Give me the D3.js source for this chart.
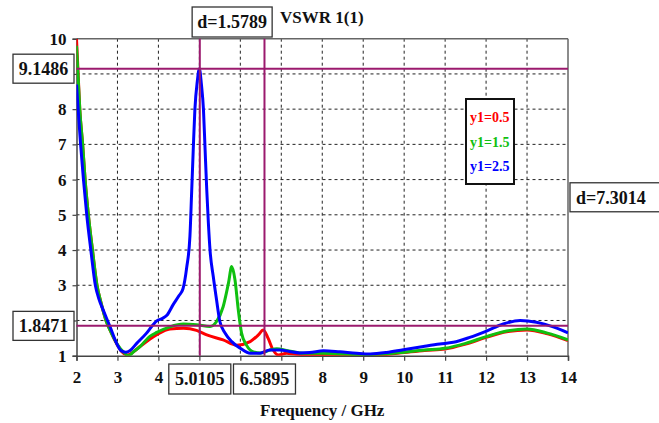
<!DOCTYPE html>
<html><head><meta charset="utf-8">
<script src="https://cdn.jsdelivr.net/npm/d3@7"></script>
<style>
html,body{margin:0;padding:0;background:#fff;}
svg{display:block;font-family:"Liberation Serif","Times New Roman",serif;font-weight:bold;}
</style></head>
<body><svg id="c" width="659" height="423"></svg>
<script>
// ---- data ----
const xTicks = [2,3,4,5,6,7,8,9,10,11,12,13,14];
const yTicks = [1,2,3,4,5,6,7,8,9,10];
const xHiddenLabels = [5,6,7];   // covered by marker boxes in the reference
const yHiddenLabels = [2,9];
const seriesNames = ["y1=0.5","y1=1.5","y1=2.5"];
const seriesColors = ["#ff0000","#10c010","#0000ff"];

const redF = [2.0,2.04,2.08,2.15,2.21,2.29,2.39,2.5,2.6,2.72,2.85,3.0,3.12,3.25,3.4,3.55,3.96,4.28,4.61,4.93,5.18,5.58,5.91,6.24,6.44,6.56,6.68,6.8,6.93,7.13,7.37,7.7,8.0,8.5,9.0,9.5,10.0,10.5,11.0,11.5,12.0,12.5,13.0,13.5,14.0];
const redV = [10.0,9.0,8.0,7.0,6.0,5.0,4.0,3.0,2.5,2.0,1.65,1.3,1.1,1.02,1.12,1.26,1.6,1.76,1.78,1.72,1.59,1.45,1.3,1.4,1.59,1.73,1.49,1.16,1.02,1.07,1.04,1.03,1.03,1.03,1.02,1.03,1.09,1.15,1.19,1.33,1.52,1.68,1.73,1.62,1.43];

const greenF = [2.0,2.04,2.08,2.15,2.21,2.29,2.39,2.5,2.6,2.72,2.85,3.0,3.15,3.27,3.4,3.55,3.79,3.96,4.28,4.61,4.93,5.26,5.42,5.58,5.71,5.79,5.87,5.95,6.03,6.15,6.32,6.5,6.7,6.89,7.13,7.54,8.0,8.5,9.0,9.5,10.0,10.5,11.0,11.5,12.0,12.5,13.0,13.5,14.0];
const greenV = [9.8,8.9,8.0,7.0,6.0,5.0,4.0,3.0,2.5,2.0,1.65,1.32,1.1,1.0,1.12,1.26,1.55,1.66,1.82,1.9,1.88,1.83,1.97,2.39,3.06,3.53,3.15,2.3,1.64,1.3,1.11,1.08,1.15,1.2,1.15,1.07,1.07,1.05,1.03,1.05,1.1,1.16,1.21,1.35,1.54,1.7,1.76,1.64,1.45];

const blueF = [2.0,2.04,2.1,2.17,2.25,2.35,2.46,2.55,2.65,2.82,2.98,3.08,3.2,3.3,3.47,3.71,3.85,3.96,4.1,4.2,4.36,4.5,4.6,4.69,4.77,4.81,4.85,4.89,4.95,5.0,5.05,5.1,5.14,5.18,5.22,5.26,5.34,5.42,5.5,5.63,5.79,6.0,6.24,6.48,6.72,6.97,7.2,7.45,7.7,8.03,8.43,8.84,9.17,9.57,9.98,10.47,10.87,11.2,11.6,12.01,12.42,12.83,13.23,13.64,14.0];
const blueV = [8.7,8.0,7.0,6.0,5.0,4.0,3.0,2.6,2.3,1.82,1.35,1.15,1.1,1.14,1.35,1.64,1.85,1.99,2.06,2.14,2.45,2.7,2.9,3.5,4.4,5.6,6.84,7.98,8.8,9.15,8.7,7.98,6.84,5.71,4.76,4.0,3.24,2.58,1.97,1.64,1.4,1.21,1.07,1.07,1.16,1.16,1.12,1.08,1.09,1.14,1.11,1.07,1.05,1.09,1.17,1.26,1.33,1.38,1.52,1.7,1.9,2.0,1.95,1.82,1.65];

const markerX = [5.0105, 6.5895];
const markerXLabels = ["5.0105","6.5895"];
const markerY = [9.1486, 1.8471];
const markerYLabels = ["9.1486","1.8471"];
const deltaXLabel = "d=1.5789";
const deltaYLabel = "d=7.3014";
const titleText = "VSWR 1(1)";
const xTitle = "Frequency / GHz";

// ---- drawing ----
const svg = d3.select("#c");
const x = d3.scaleLinear().domain([2,14]).range([76.5,568]);
const y = d3.scaleLinear().domain([1,10]).range([355.7,38.7]);
const purple = "#9b1a6e";

svg.append("defs").append("clipPath").attr("id","clip")
  .append("rect").attr("x",x(2)).attr("y",y(10)).attr("width",x(14)-x(2)).attr("height",y(1)-y(10));

// grid
const g = svg.append("g");
g.selectAll(".vg").data(xTicks.slice(1,-1)).join("line")
  .attr("x1",d=>x(d)).attr("x2",d=>x(d)).attr("y1",y(10)).attr("y2",y(1))
  .attr("stroke","#222").attr("stroke-width",1).attr("stroke-dasharray","3,3");
g.selectAll(".hg").data(yTicks.slice(1,-1)).join("line")
  .attr("x1",x(2)).attr("x2",x(14)).attr("y1",d=>y(d)).attr("y2",d=>y(d))
  .attr("stroke","#222").attr("stroke-width",1).attr("stroke-dasharray","3,3");

// frame top/right
svg.append("line").attr("x1",x(2)).attr("x2",x(14)).attr("y1",y(10)).attr("y2",y(10)).attr("stroke","#666").attr("stroke-width",1.5);
svg.append("line").attr("x1",x(14)).attr("x2",x(14)).attr("y1",y(10)).attr("y2",y(1)).attr("stroke","#666").attr("stroke-width",1.5);

// axes
const xAxis = svg.append("g").attr("transform",`translate(0,${y(1)})`)
  .call(d3.axisBottom(x).tickValues(xTicks).tickSize(5).tickPadding(10)
    .tickFormat(d=>xHiddenLabels.includes(d)?"":d3.format("d")(d)));
const yAxis = svg.append("g").attr("transform",`translate(${x(2)},0)`)
  .call(d3.axisLeft(y).tickValues(yTicks).tickSize(4).tickPadding(6)
    .tickFormat(d=>yHiddenLabels.includes(d)?"":d3.format("d")(d)));
[xAxis,yAxis].forEach(a=>{
  a.select(".domain").attr("stroke","#444").attr("stroke-width",1.5);
  a.selectAll(".tick line").attr("stroke","#444").attr("stroke-width",1.2);
  a.selectAll("text").attr("fill","#111").style("font-family","Liberation Serif").style("font-weight","bold").style("font-size","17px");
  a.selectAll(".tick text").filter(function(){return this.textContent==="";}).remove();
});

// curves
const line = d3.line().x(d=>x(d[0])).y(d=>y(d[1])).curve(d3.curveMonotoneX);
const series = [[redF,redV],[greenF,greenV],[blueF,blueV]];
const cg = svg.append("g").attr("clip-path","url(#clip)");
series.forEach((s,i)=>{
  const pts = s[0].map((f,j)=>[f,s[1][j]]);
  cg.append("path").attr("d",line(pts)).attr("fill","none")
    .attr("stroke",seriesColors[i]).attr("stroke-width",3).attr("stroke-linejoin","round");
});

// markers
markerX.forEach(m=>{
  svg.append("line").attr("x1",x(m)).attr("x2",x(m)).attr("y1",y(10)).attr("y2",y(1))
    .attr("stroke",purple).attr("stroke-width",2);
});
markerY.forEach(m=>{
  svg.append("line").attr("x1",x(2)).attr("x2",x(14)).attr("y1",y(m)).attr("y2",y(m))
    .attr("stroke",purple).attr("stroke-width",2);
});

function box(cx, cy, w, h, text, size){
  svg.append("rect").attr("x",cx-w/2).attr("y",cy-h/2).attr("width",w).attr("height",h)
    .attr("fill","#fff").attr("stroke","#333").attr("stroke-width",1.3);
  svg.append("text").attr("x",cx).attr("y",cy).attr("dy","0.35em").attr("text-anchor","middle")
    .style("font-size",size+"px").attr("fill","#111").text(text);
}
// x marker labels
markerX.forEach((m,i)=>box(x(m), 379, 62, 30, markerXLabels[i], 18));
// y marker labels
markerY.forEach((m,i)=>box(43.5, y(m), 61, 29, markerYLabels[i], 18));
// delta labels
box((x(markerX[0])+x(markerX[1]))/2, 22, 80, 30, deltaXLabel, 18);
svg.append("rect").attr("x",570).attr("y",(y(markerY[0])+y(markerY[1]))/2-14.5).attr("width",100).attr("height",29)
  .attr("fill","#fff").attr("stroke","#333").attr("stroke-width",1.3);
svg.append("text").attr("x",576).attr("y",(y(markerY[0])+y(markerY[1]))/2).attr("dy","0.35em")
  .style("font-size","18px").attr("fill","#111").text(deltaYLabel);

// title
svg.append("text").attr("x",280).attr("y",23).style("font-size","17px").attr("fill","#111").text(titleText);
// x title
svg.append("text").attr("x",x(8)).attr("y",416).attr("text-anchor","middle").style("font-size","17px").attr("fill","#111").text(xTitle);

// legend
svg.append("rect").attr("x",466).attr("y",99).attr("width",48).attr("height",85)
  .attr("fill","#fff").attr("stroke","#111").attr("stroke-width",2);
seriesNames.forEach((n,i)=>{
  svg.append("text").attr("x",470).attr("y",122+i*24.5).style("font-size","14px")
    .attr("fill",seriesColors[i]).text(n);
});
</script></body></html>
